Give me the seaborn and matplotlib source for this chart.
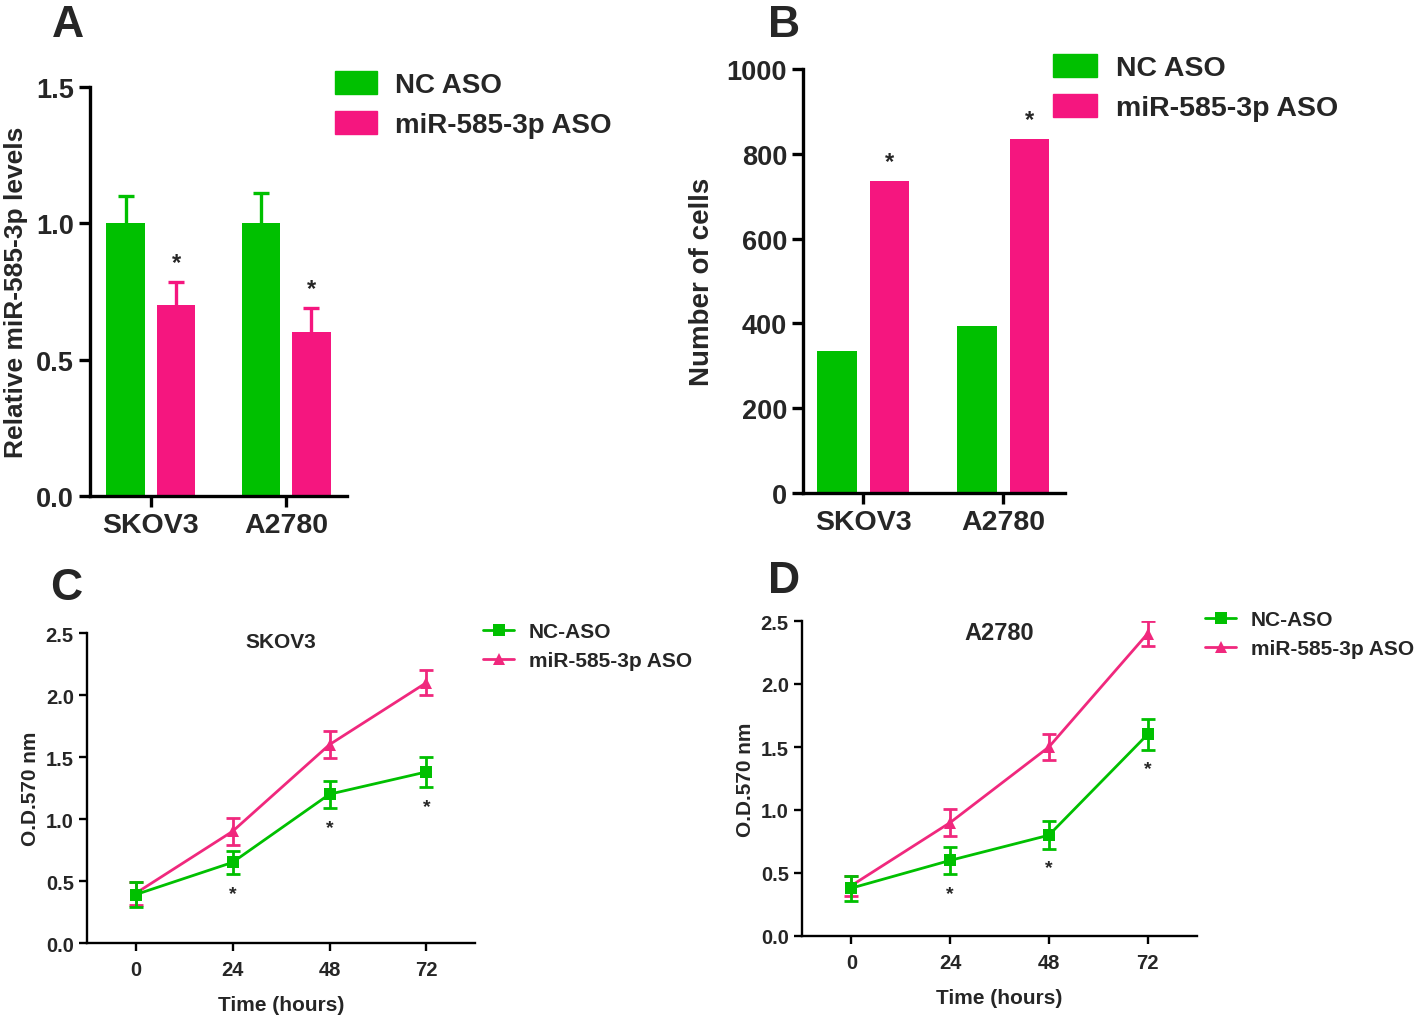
import matplotlib
matplotlib.use("Agg")
import matplotlib.pyplot as plt
import seaborn as sns
import pandas as pd
import numpy as np
from matplotlib.patches import Patch
from matplotlib.lines import Line2D

# ---------------- data ----------------
cell_lines = ["SKOV3", "A2780"]
groups_bar = ["NC ASO", "miR-585-3p ASO"]
rel_nc = [1.0, 1.0]
rel_nc_err = [0.10, 0.11]
rel_mir = [0.70, 0.60]
rel_mir_err = [0.085, 0.09]

cells_nc = [335, 395]
cells_mir = [736, 835]

times = [0, 24, 48, 72]
groups_line = ["NC-ASO", "miR-585-3p ASO"]
skov_nc = [0.39, 0.65, 1.20, 1.38]
skov_nc_err = [0.10, 0.09, 0.11, 0.12]
skov_mir = [0.40, 0.90, 1.60, 2.10]
skov_mir_err = [0.09, 0.11, 0.11, 0.10]
a27_nc = [0.38, 0.60, 0.80, 1.60]
a27_nc_err = [0.10, 0.11, 0.11, 0.12]
a27_mir = [0.40, 0.90, 1.50, 2.40]
a27_mir_err = [0.08, 0.11, 0.10, 0.10]

GREEN = "#00C000"
PINK = "#F5167F"
PINK_L = "#F0287D"

sns.set_theme(style="ticks")
plt.rcParams["font.family"] = ["Liberation Sans", "DejaVu Sans"]
plt.rcParams["font.weight"] = "bold"
plt.rcParams["axes.labelweight"] = "bold"

W, H = 1416, 1020
fig = plt.figure(figsize=(W / 100, H / 100), dpi=100)


def fx(px):
    return px / W


def fy(py):
    return 1 - py / H


def rect(l, t, r, b):
    return [fx(l), fy(b), fx(r) - fx(l), fy(t) - fy(b)]


def style_axes(ax, lw, tl, fs):
    sns.despine(ax=ax)
    for s in ("left", "bottom"):
        ax.spines[s].set_linewidth(lw)
        ax.spines[s].set_color("black")
    ax.tick_params(axis="both", width=lw, length=tl, labelsize=fs, color="black",
                   direction="out")
    for lab in ax.get_xticklabels() + ax.get_yticklabels():
        lab.set_fontweight("bold")


def bar_panel(ax, nc, mir):
    df = pd.DataFrame({
        "line": cell_lines * 2,
        "group": [groups_bar[0]] * 2 + [groups_bar[1]] * 2,
        "val": list(nc) + list(mir),
    })
    sns.barplot(data=df, x="line", y="val", hue="group", order=cell_lines,
                hue_order=groups_bar, palette=[GREEN, PINK], width=0.75, gap=0.25,
                saturation=1, errorbar=None, legend=False, ax=ax, linewidth=0)
    pats = sorted(ax.patches, key=lambda p: p.get_x())
    centers = [p.get_x() + p.get_width() / 2 for p in pats]
    heights = [p.get_height() for p in pats]
    return centers, heights


# ---------------- Panel A ----------------
axA = fig.add_axes(rect(90, 88, 347, 497))
cA, hA = bar_panel(axA, rel_nc, rel_mir)
errsA = [rel_nc_err[0], rel_mir_err[0], rel_nc_err[1], rel_mir_err[1]]
colsA = [GREEN, PINK, GREEN, PINK]
for x, h, e, c in zip(cA, hA, errsA, colsA):
    cont = axA.errorbar([x], [h], yerr=[[0], [e]], fmt="none", ecolor=c, elinewidth=2.4,
                        capsize=5.5, capthick=2.4, zorder=1)
    caps = cont.lines[1]
    if len(caps) > 1:
        caps[0].set_visible(False)
for i in (1, 3):
    axA.text(cA[i], hA[i] + errsA[i] + 0.03, "*", ha="center", va="bottom",
             fontsize=17, fontweight="bold")
axA.set_ylim(0, 1.5)
axA.set_yticks([0.0, 0.5, 1.0, 1.5])
axA.set_yticklabels(["0.0", "0.5", "1.0", "1.5"])
axA.set_xlim(-0.45, 1.45)
axA.set_xlabel("")
axA.set_ylabel("Relative miR-585-3p levels", fontsize=19, fontweight="bold", labelpad=6)
style_axes(axA, 2.4, 8, 19.5)
axA.tick_params(axis="x", labelsize=20.5)

fig.legend(handles=[Patch(color=GREEN, label="NC ASO"), Patch(color=PINK, label="miR-585-3p ASO")],
           loc="upper left", bbox_to_anchor=(fx(335), fy(72)), frameon=False,
           prop={"size": 20, "weight": "bold"}, handlelength=1.5, handleheight=0.9,
           handletextpad=0.65, labelspacing=0.45, borderpad=0, borderaxespad=0)

# ---------------- Panel B ----------------
axB = fig.add_axes(rect(803, 70, 1065, 494))
cB, hB = bar_panel(axB, cells_nc, cells_mir)
for i in (1, 3):
    axB.text(cB[i], hB[i] + 18, "*", ha="center", va="bottom", fontsize=17,
             fontweight="bold")
axB.set_ylim(0, 1000)
axB.set_yticks([0, 200, 400, 600, 800, 1000])
axB.set_xlim(-0.43, 1.44)
axB.set_xlabel("")
axB.set_ylabel("Number of cells", fontsize=20, fontweight="bold", labelpad=8)
style_axes(axB, 2.4, 8, 19.5)
axB.tick_params(axis="x", labelsize=20.5)

fig.legend(handles=[Patch(color=GREEN, label="NC ASO"), Patch(color=PINK, label="miR-585-3p ASO")],
           loc="upper left", bbox_to_anchor=(fx(1053), fy(55)), frameon=False,
           prop={"size": 20.5, "weight": "bold"}, handlelength=1.55, handleheight=0.85,
           handletextpad=0.65, labelspacing=0.45, borderpad=0, borderaxespad=0)


# ---------------- Line panels ----------------
def line_panel(ax, nc, nc_err, mir, mir_err, title, title_y, title_fs, tick_fs, ast_off):
    df = pd.DataFrame({
        "time": times * 2,
        "od": list(mir) + list(nc),
        "group": [groups_line[1]] * 4 + [groups_line[0]] * 4,
    })
    sns.lineplot(data=df, x="time", y="od", hue="group", style="group",
                 hue_order=[groups_line[1], groups_line[0]],
                 style_order=[groups_line[1], groups_line[0]],
                 palette=[PINK_L, GREEN], markers=["^", "s"], dashes=False,
                 markersize=9, linewidth=2, markeredgewidth=0, legend=False, ax=ax)
    ax.errorbar(times, mir, yerr=mir_err, fmt="none", ecolor=PINK_L, elinewidth=2,
                capsize=5, capthick=2, zorder=1.5)
    ax.errorbar(times, nc, yerr=nc_err, fmt="none", ecolor=GREEN, elinewidth=2,
                capsize=5, capthick=2, zorder=2.5)
    for t, v, e in list(zip(times, nc, nc_err))[1:]:
        ax.text(t, v - e - ast_off, "*", ha="center", va="center", fontsize=14,
                fontweight="bold")
    ax.set_xlim(-12, 84)
    ax.set_ylim(0, 2.5)
    ax.set_xticks(times)
    ax.set_yticks([0.0, 0.5, 1.0, 1.5, 2.0, 2.5])
    ax.set_yticklabels(["0.0", "0.5", "1.0", "1.5", "2.0", "2.5"])
    ax.set_xlabel("Time (hours)", fontsize=15, fontweight="bold", labelpad=12)
    ax.set_ylabel("O.D.570 nm", fontsize=15, fontweight="bold", labelpad=4)
    ax.text(0.5, title_y, title, transform=ax.transAxes, ha="center", va="center",
            fontsize=title_fs, fontweight="bold")
    style_axes(ax, 1.7, 6, tick_fs)
    ax.tick_params(axis="x", pad=6)


def line_legend(x, y):
    h = [Line2D([], [], color=GREEN, marker="s", markersize=8, lw=2, markeredgewidth=0,
                label=groups_line[0]),
         Line2D([], [], color=PINK_L, marker="^", markersize=8, lw=2, markeredgewidth=0,
                label=groups_line[1])]
    fig.legend(handles=h, loc="upper left", bbox_to_anchor=(fx(x), fy(y)), frameon=False,
               prop={"size": 15, "weight": "bold"}, handlelength=1.5,
               handletextpad=0.7, labelspacing=0.5, borderpad=0, borderaxespad=0)


axC = fig.add_axes(rect(87, 634, 475, 944))
line_panel(axC, skov_nc, skov_nc_err, skov_mir, skov_mir_err, "SKOV3", 0.974, 15, 14.5, 0.16)
line_legend(483, 623)

axD = fig.add_axes(rect(802, 622, 1197, 937))
line_panel(axD, a27_nc, a27_nc_err, a27_mir, a27_mir_err, "A2780", 0.962, 17, 14.5, 0.15)
line_legend(1205, 611)

# ---------------- Panel letters ----------------
for lab, x, y in [("A", 52, 37), ("B", 768, 37), ("C", 50, 600), ("D", 768, 593)]:
    fig.text(fx(x), fy(y), lab, fontsize=32, fontweight="bold", ha="left", va="baseline")

fig.savefig("out.png", dpi=100)
